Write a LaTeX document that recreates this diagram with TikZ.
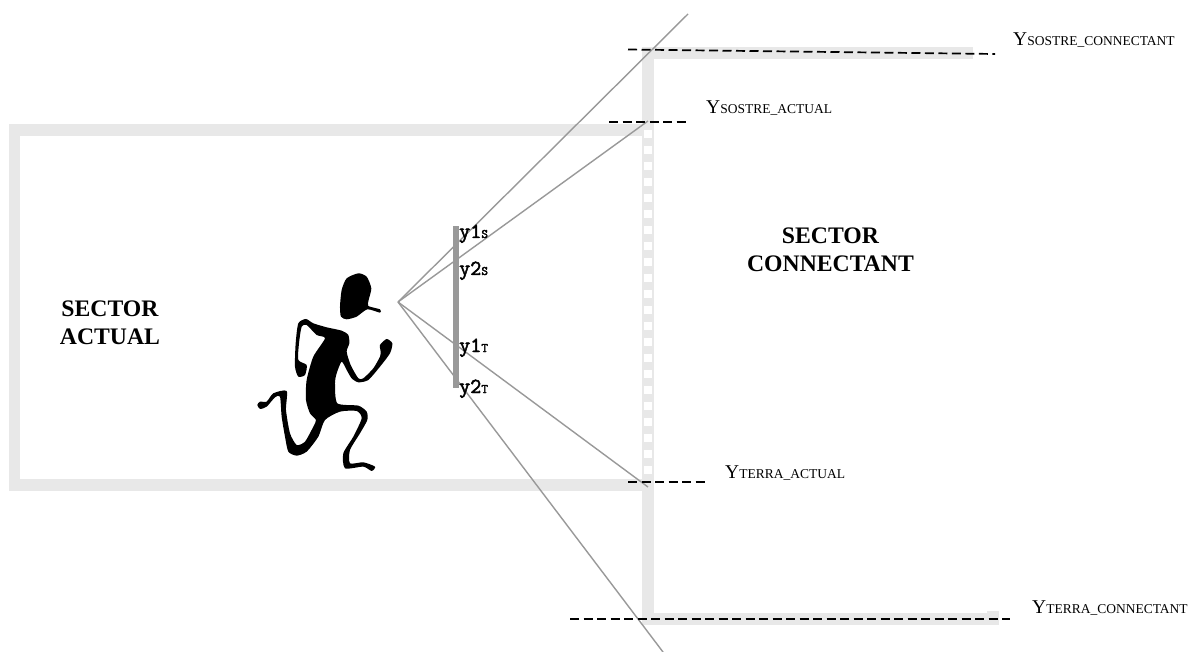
\documentclass[tikz,border=0pt]{standalone}
\usepackage{fontspec}
\setmainfont{Liberation Serif}
\newfontfamily\labelmono[FakeBold=2.2]{Latin Modern Mono}
\definecolor{wallgrey}{HTML}{E8E8E8}
\definecolor{raygrey}{HTML}{999999}
\newcommand{\ylabel}[2]{{\fontsize{19.5}{19.5}\selectfont Y}{\fontsize{13.5}{13.5}\selectfont #1\_#2}}
\newcommand{\scanlabel}[2]{{\labelmono\fontsize{21.5}{21.5}\selectfont y#1}{\labelmono\fontsize{13}{13}\selectfont #2}}
\tikzset{
  wall/.style={fill=wallgrey,draw=none},
  gap/.style={fill=white,draw=none},
  ray/.style={draw=raygrey,line width=1.4pt},
  level/.style={draw=black,line width=1.7pt,dash pattern=on 9pt off 4.5pt},
  levellabel/.style={anchor=base west,inner sep=0pt},
  scanlabel/.style={anchor=base west,inner sep=0pt},
  sectorlabel/.style={align=center,inner sep=0pt,font=\bfseries\fontsize{23.7}{28}\selectfont}
}
\begin{document}
\begin{tikzpicture}[x=1pt,y=-1pt]
\useasboundingbox (0,0) rectangle (1196,652);
\fill[white] (0,0) rectangle (1196,652);

% current sector frame
\fill[wall] (9,124) rectangle (654,136);
\fill[wall] (9,479) rectangle (654,491);
\fill[wall] (9,124) rectangle (20,491);

% connecting sector walls
\fill[wall] (642,47) rectangle (654,625);
\fill[wall] (642,47) rectangle (973,59);
\fill[wall] (642,613) rectangle (999,625);
\fill[wall] (987,611) rectangle (999,625);

% openings in the shared wall
\foreach \k in {0,...,21}
  \fill[gap] (644,130+16*\k) rectangle (652,138+16*\k);

% viewer silhouette: head with cap peak, then body and limbs
\begin{scope}[shift={(230,210)},x=0.3333pt,y=-0.3333pt]
\fill[black] plot[smooth cycle,tension=0.4] coordinates {
  (385,190) (410,200) (424,235) (416,270) (415,288) (450,298) (450,308) (412,298)
  (380,320) (350,328) (333,320) (330,290) (335,240) (350,205)};
\fill[black] plot[smooth cycle,tension=0.4] coordinates {
  (228,327) (250,340) (290,352) (335,362) (355,375) (358,400) (350,425) (362,465)
  (385,505) (400,505) (430,475) (450,440) (452,425) (450,405) (470,387) (487,400)
  (480,430) (450,470) (415,510) (385,517) (365,505) (350,480) (335,455) (320,490)
  (315,520) (322,580) (385,587) (410,605) (412,630) (390,670) (360,720) (360,760)
  (400,757) (435,770) (425,783) (400,770) (345,775) (340,730) (370,680) (395,625)
  (380,603) (330,605) (285,630) (265,680) (230,725) (200,737) (175,725) (165,680)
  (155,620) (150,560) (135,562) (110,590) (90,597) (82,585) (90,575) (110,575)
  (130,550) (170,543) (168,600) (180,670) (200,705) (225,695) (250,650) (258,630)
  (240,610) (228,570) (230,510) (250,440) (285,385) (260,375) (230,345) (215,350)
  (207,400) (205,450) (230,465) (225,495) (205,500) (195,470) (197,400) (205,340)};
\end{scope}

% viewing rays from the eye point
\coordinate (eye) at (398,302);
\coordinate (rayTC) at (688,14);
\coordinate (rayTA) at (648,121);
\coordinate (rayBA) at (648,487);
\coordinate (rayBC) at (663,652);
\draw[ray] (eye) -- (rayTC);
\draw[ray] (eye) -- (rayTA);
\draw[ray] (eye) -- (rayBA);
\draw[ray] (eye) -- (rayBC);

% projection plane
\fill[raygrey] (453,226) rectangle (459,388);

% level markers
\coordinate (sc0) at (628,49.5);  \coordinate (sc1) at (995,54);
\coordinate (sa0) at (609,122);   \coordinate (sa1) at (686,122);
\coordinate (ta0) at (628,482);   \coordinate (ta1) at (706,482);
\coordinate (tc0) at (570,619);   \coordinate (tc1) at (1010,619);
\draw[level] (sc0) -- (sc1);
\draw[level] (sa0) -- (sa1);
\draw[level] (ta0) -- (ta1);
\draw[level] (tc0) -- (tc1);

% level names
\node[levellabel] (lsc) at (1013,46) {\ylabel{SOSTRE}{CONNECTANT}};
\node[levellabel] (lsa) at (706,114) {\ylabel{SOSTRE}{ACTUAL}};
\node[levellabel] (lta) at (725,478) {\ylabel{TERRA}{ACTUAL}};
\node[levellabel] (ltc) at (1032,613) {\ylabel{TERRA}{CONNECTANT}};

% screen coordinates on the projection plane
\node[scanlabel] (y1s) at (459,238) {\scanlabel{1}{S}};
\node[scanlabel] (y2s) at (459,275) {\scanlabel{2}{S}};
\node[scanlabel] (y1t) at (459,352) {\scanlabel{1}{T}};
\node[scanlabel] (y2t) at (459,393) {\scanlabel{2}{T}};

% sector names
\node[sectorlabel] (actual) at (110,323) {SECTOR\\ACTUAL};
\node[sectorlabel] (connectant) at (830.5,250) {SECTOR\\CONNECTANT};
\end{tikzpicture}
\end{document}
